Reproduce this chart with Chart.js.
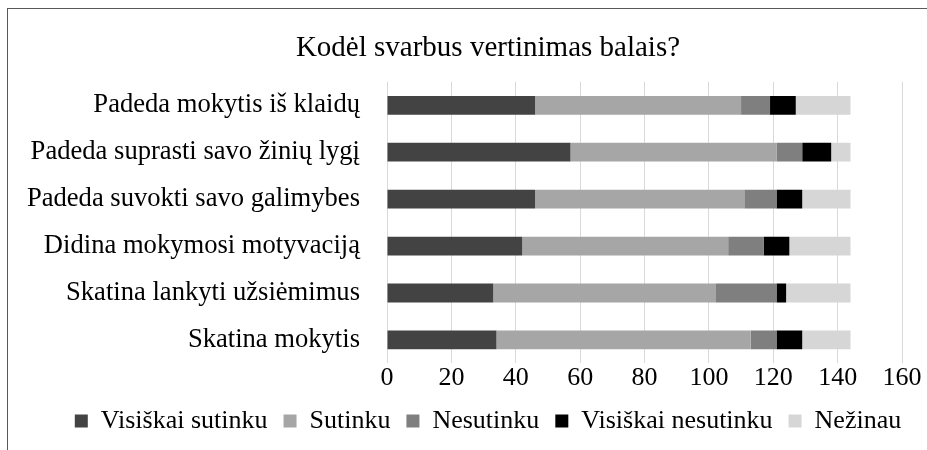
<!DOCTYPE html>
<html>
<head>
<meta charset="utf-8">
<script src="https://cdn.jsdelivr.net/npm/chart.js@4.4.1/dist/chart.umd.min.js"></script>
<style>
  html, body { margin: 0; padding: 0; background: #fff; overflow: hidden; }
  .frame { position: absolute; left: 7px; top: 8px; width: 1000px; height: 500px; border: 1px solid #595959; }
  .wrap { position: absolute; left: 0; top: 0; width: 976px; height: 450px; }
</style>
</head>
<body>
<div class="frame"></div>
<div class="wrap"><canvas id="chart" width="976" height="450"></canvas></div>
<script>
// categories, top to bottom
const categories = [
  'Padeda mokytis iš klaidų',
  'Padeda suprasti savo žinių lygį',
  'Padeda suvokti savo galimybes',
  'Didina mokymosi motyvaciją',
  'Skatina lankyti užsiėmimus',
  'Skatina mokytis',
];

const visiskaiSutinku   = [46, 57, 46, 42, 33, 34];
const sutinku           = [64, 64, 65, 64, 69, 79];
const nesutinku         = [9, 8, 10, 11, 19, 8];
const visiskaiNesutinku = [8, 9, 8, 8, 3, 8];
const nezinau           = [17, 6, 15, 19, 20, 15];

const xTicks = { min: 0, max: 160, step: 20 };

Chart.defaults.font.family = "'Liberation Serif', 'Times New Roman', serif";
Chart.defaults.color = '#000';

const series = [
  { label: 'Visiškai sutinku', data: visiskaiSutinku, backgroundColor: '#434343' },
  { label: 'Sutinku', data: sutinku, backgroundColor: '#a6a6a6' },
  { label: 'Nesutinku', data: nesutinku, backgroundColor: '#7f7f7f' },
  { label: 'Visiškai nesutinku', data: visiskaiNesutinku, backgroundColor: '#000000' },
  { label: 'Nežinau', data: nezinau, backgroundColor: '#d6d6d6' },
];

new Chart(document.getElementById('chart'), {
  type: 'bar',
  data: {
    labels: categories,
    datasets: series.map(s => ({ ...s, borderWidth: 0, barPercentage: 0.4, categoryPercentage: 1 })),
  },
  options: {
    indexAxis: 'y',
    responsive: false,
    animation: false,
    layout: { padding: { top: 10, right: 0, bottom: 6, left: 0 } },
    plugins: {
      title: {
        display: true,
        text: 'Kodėl svarbus vertinimas balais?',
        font: { size: 29, weight: 'normal', lineHeight: 1.2 },
        color: '#000',
        padding: { top: 21, bottom: 16 },
      },
      legend: {
        position: 'bottom',
        labels: { boxWidth: 13, boxHeight: 13, padding: 16, font: { size: 26 }, color: '#000' },
      },
      tooltip: { enabled: false },
    },
    scales: {
      x: {
        stacked: true,
        min: xTicks.min,
        max: xTicks.max,
        ticks: { stepSize: xTicks.step, padding: 0, font: { size: 26, lineHeight: 1.1 }, color: '#000' },
        grid: { color: '#d9d9d9', lineWidth: 1, drawTicks: false },
        border: { display: false },
      },
      y: {
        stacked: true,
        ticks: { padding: 27, font: { size: 26.6 }, color: '#000' },
        grid: { display: false, drawTicks: false },
        border: { display: false },
        afterFit: scale => { scale.width = 387; },
      },
      // empty spacer on the right so the plot ends at x=902 while title/legend stay centred
      spacer: {
        type: 'linear',
        position: 'right',
        ticks: { display: false },
        grid: { display: false, drawTicks: false },
        border: { display: false },
        afterFit: scale => { scale.width = 74; },
      },
    },
  },
});
</script>
</body>
</html>
